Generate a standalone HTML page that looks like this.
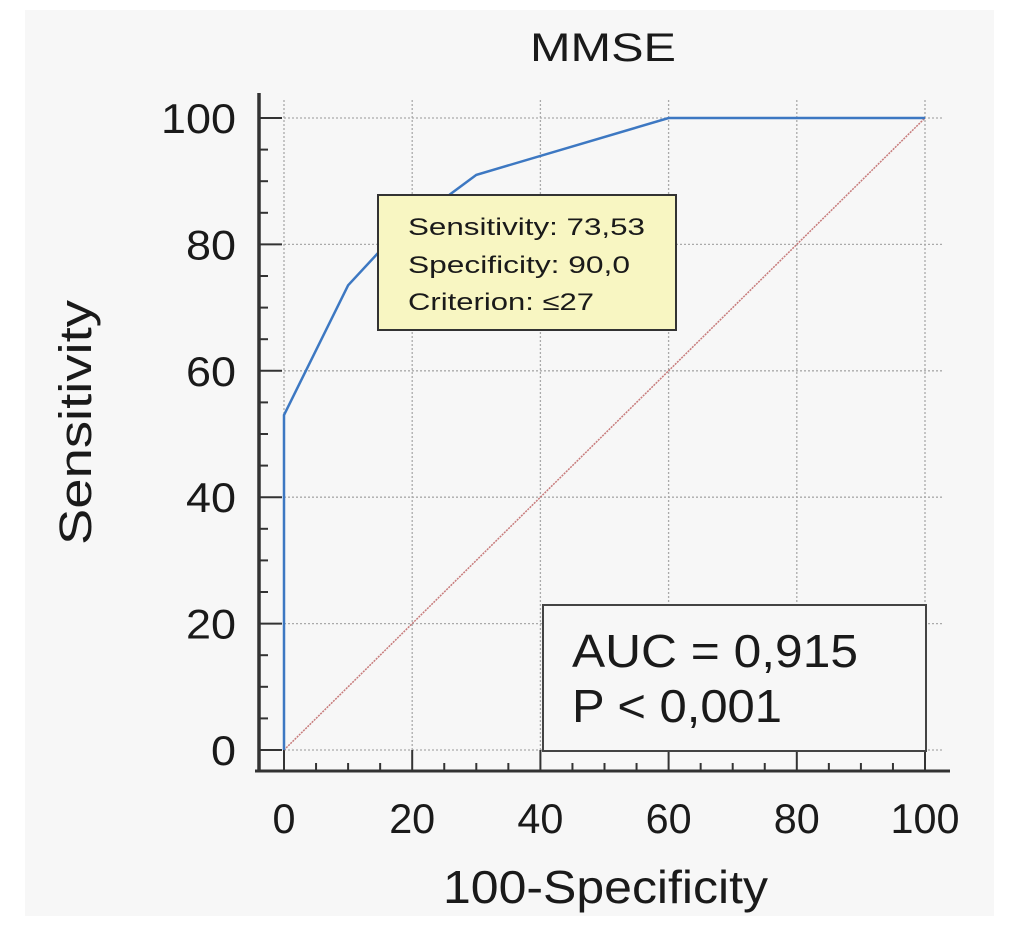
<!DOCTYPE html>
<html><head><meta charset="utf-8"><style>
body{margin:0;background:#fff;}
svg text{font-family:"Liberation Sans",Arial,sans-serif;fill:#1a1a1a;}
</style></head><body>
<svg width="1023" height="933" xmlns="http://www.w3.org/2000/svg" id="chart">
<rect x="25" y="10" width="969" height="906" fill="#f7f7f7"/>
<text x="530" y="61" font-size="40" textLength="146" lengthAdjust="spacingAndGlyphs">MMSE</text>
<g id="grid"></g>
<g id="axes"></g>
<g id="marks"></g>
<g>
<rect x="378" y="195" width="298" height="135" fill="#f8f6c2" stroke="#333" stroke-width="2"/>
<text x="408" y="235" font-size="24" textLength="237" lengthAdjust="spacingAndGlyphs">Sensitivity: 73,53</text>
<text x="408" y="273" font-size="24" textLength="222" lengthAdjust="spacingAndGlyphs">Specificity: 90,0</text>
<text x="408" y="310" font-size="24" textLength="186" lengthAdjust="spacingAndGlyphs">Criterion: ≤27</text>
</g>
<g>
<rect x="543" y="605" width="383" height="146" fill="#f7f7f7" stroke="#444" stroke-width="2"/>
<text x="572" y="667" font-size="46" textLength="286" lengthAdjust="spacingAndGlyphs">AUC = 0,915</text>
<text x="572" y="722" font-size="46" textLength="210" lengthAdjust="spacingAndGlyphs">P &lt; 0,001</text>
</g>
<text x="443" y="903" font-size="46" textLength="325" lengthAdjust="spacingAndGlyphs">100-Specificity</text>
<text transform="translate(91,545) rotate(-90)" font-size="45" textLength="245" lengthAdjust="spacingAndGlyphs">Sensitivity</text>
</svg>
<script>
const xTicks=[0,20,40,60,80,100];
const yTicks=[0,20,40,60,80,100];
const rocX=[0,0,10,15,26,30,60,100];
const rocY=[0,53,73.53,79,88,91,100,100];
const refX=[0,100];
const refY=[0,100];
const NS="http://www.w3.org/2000/svg";
const sx=v=>284+v*6.41;
const sy=v=>750-v*6.32;
function mk(tag,attrs,parent){const e=document.createElementNS(NS,tag);for(const k in attrs)e.setAttribute(k,attrs[k]);parent.appendChild(e);return e;}
const grid=document.getElementById('grid'),axes=document.getElementById('axes'),marks=document.getElementById('marks');
xTicks.forEach(t=>{
 const g=mk('line',{x1:sx(t),x2:sx(t),y1:100,y2:750,stroke:'#aaa','stroke-width':1.3,'stroke-dasharray':'2,2'},grid);
 
 
 const tk=mk('line',{x1:sx(t),x2:sx(t),y1:750,y2:771,stroke:'#333','stroke-width':2},axes);
 
 
 const w=String(t).length*23;
 const lb=mk('text',{x:sx(t),y:833,'font-size':42,'text-anchor':'middle',textLength:w,lengthAdjust:'spacingAndGlyphs'},axes);lb.textContent=t;
 
 
});
yTicks.forEach(t=>{
 const g=mk('line',{x1:284,x2:942,y1:sy(t),y2:sy(t),stroke:'#aaa','stroke-width':1.3,'stroke-dasharray':'2,2'},grid);
 
 
 const tk=mk('line',{x1:259,x2:282,y1:sy(t),y2:sy(t),stroke:'#333','stroke-width':2},axes);
 
 
 const w=String(t).length*25;
 const lb=mk('text',{x:236,y:sy(t)+15,'font-size':42,'text-anchor':'end',textLength:w,lengthAdjust:'spacingAndGlyphs'},axes);lb.textContent=t;
 
 
});
for(let v=5;v<100;v+=5){if(v%20===0)continue;
 mk('line',{x1:sx(v),x2:sx(v),y1:763,y2:771,stroke:'#333','stroke-width':2},axes);
 mk('line',{x1:259,x2:268,y1:sy(v),y2:sy(v),stroke:'#333','stroke-width':2},axes);
}
const ya=mk('line',{x1:259,x2:259,y1:93,y2:772,stroke:'#333','stroke-width':3.5},axes);


const xa=mk('line',{x1:255,x2:950,y1:771,y2:771,stroke:'#333','stroke-width':3},axes);


const ref=mk('polyline',{points:refX.map((x,i)=>sx(x)+','+sy(refY[i])).join(' '),fill:'none',stroke:'#c77b7b','stroke-width':1.5,'stroke-dasharray':'2,1'},marks);


const roc=mk('polyline',{points:rocX.map((x,i)=>sx(x)+','+sy(rocY[i])).join(' '),fill:'none',stroke:'#3d78c2','stroke-width':2.5},marks);


</script>
</body></html>
